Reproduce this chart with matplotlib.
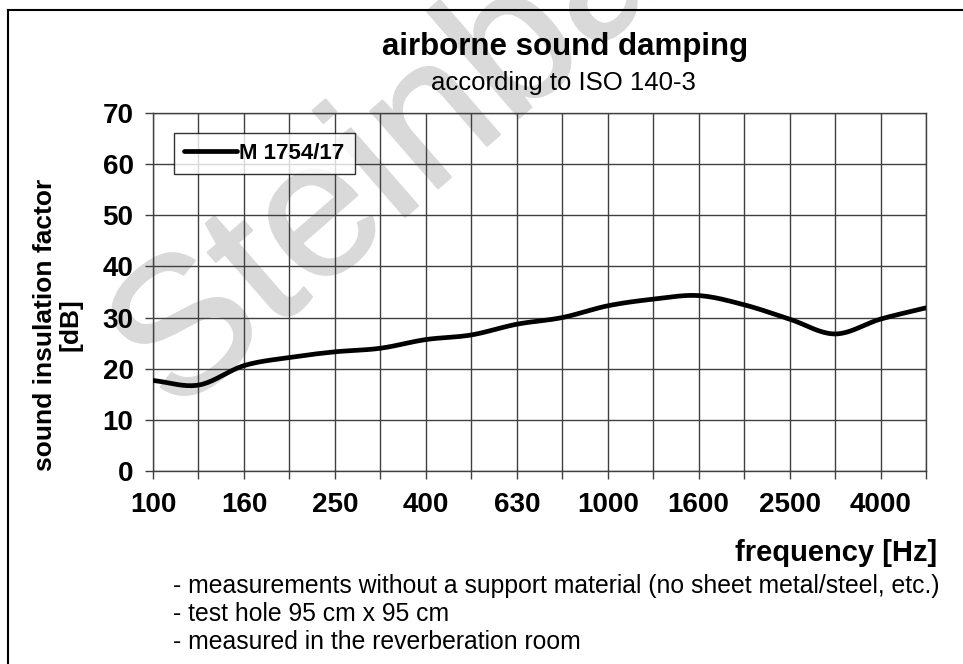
import numpy as np
import matplotlib
matplotlib.use("Agg")
import matplotlib.pyplot as plt
import matplotlib.patheffects as pe
from matplotlib.lines import Line2D

plt.rcParams['font.family'] = ['Liberation Sans', 'DejaVu Sans']

# third-octave band centre frequencies [Hz]
freqs = ["100", "125", "160", "200", "250", "315", "400", "500", "630", "800",
         "1000", "1250", "1600", "2000", "2500", "3150", "4000", "5000"]
# sound insulation factor [dB]
r_db = [17.7, 16.8, 20.6, 22.2, 23.3, 24.0, 25.7, 26.6, 28.7, 30.0,
        32.3, 33.6, 34.3, 32.5, 29.7, 26.8, 29.7, 31.9]
series_name = "M 1754/17"
notes = ["- measurements without a support material (no sheet metal/steel, etc.)",
         "- test hole 95 cm x 95 cm",
         "- measured in the reverberation room"]


def smooth(x, y, n=20):
    # catmull-rom through the points, like the smoothed line in the original
    x = np.asarray(x, float)
    y = np.asarray(y, float)
    px = np.concatenate([[2 * x[0] - x[1]], x, [2 * x[-1] - x[-2]]])
    py = np.concatenate([[2 * y[0] - y[1]], y, [2 * y[-1] - y[-2]]])
    xs, ys = [], []
    t = np.linspace(0, 1, n, endpoint=False)
    for i in range(1, len(px) - 2):
        for p, out in ((px, xs), (py, ys)):
            p0, p1, p2, p3 = p[i - 1], p[i], p[i + 1], p[i + 2]
            out.append(0.5 * (2 * p1 + (-p0 + p2) * t
                              + (2 * p0 - 5 * p1 + 4 * p2 - p3) * t ** 2
                              + (-p0 + 3 * p1 - 3 * p2 + p3) * t ** 3))
    xs.append([x[-1]])
    ys.append([y[-1]])
    return np.concatenate(xs), np.concatenate(ys)


fig = plt.figure(figsize=(9.63, 6.64), dpi=100)

# outer frame (only left and top are inside the picture)
fig.add_artist(Line2D([8 / 963, 8 / 963], [0, 1 - 10 / 664], color='black', lw=1.5,
                      transform=fig.transFigure))
fig.add_artist(Line2D([8 / 963, 1], [1 - 10 / 664, 1 - 10 / 664], color='black', lw=1.5,
                      transform=fig.transFigure))

# watermark
fig.text(175 / 963, 1 - 417 / 664, "Steinbach", fontsize=140, color='#d9d9d9',
         rotation=41, rotation_mode='anchor', ha='left', va='baseline', zorder=-1,
         path_effects=[pe.withStroke(linewidth=1.5, foreground='#d9d9d9')])

ax = fig.add_axes([153 / 963, 1 - 471 / 664, 773 / 963, 358 / 664])
ax.patch.set_alpha(0)

idx = np.arange(len(freqs))
sx, sy = smooth(idx, r_db)
ax.plot(sx, sy, color='black', lw=3.4, solid_capstyle='round', label=series_name, zorder=3)

ax.set_xlim(0, len(freqs) - 1)
ax.set_ylim(0, 70)
ax.set_yticks(range(0, 71, 10))
ax.set_xticks(idx)
ax.set_xticklabels([f if i % 2 == 0 else "" for i, f in enumerate(freqs)])
ax.grid(True, color='#404040', lw=1)
ax.tick_params(direction='out', length=6, width=1, color='#404040', pad=8)
for lab in ax.get_xticklabels() + ax.get_yticklabels():
    lab.set_fontsize(20)
    lab.set_fontweight('bold')
ax.tick_params(axis='x', pad=9)
for s in ax.spines.values():
    s.set_color('#404040')
    s.set_linewidth(1)

leg = ax.legend(loc='upper left', bbox_to_anchor=(0.027, 0.945), frameon=True, fancybox=False,
                prop={'weight': 'bold', 'size': 16}, handlelength=2.4, handletextpad=0.1,
                borderpad=0.45, borderaxespad=0)
leg.get_frame().set_edgecolor('black')
leg.get_frame().set_linewidth(1)

fig.text(565 / 963, 1 - 47 / 664, "airborne sound damping", fontsize=22.5, fontweight='bold',
         ha='center', va='center')
fig.text(563 / 963, 1 - 83 / 664, "according to ISO 140-3", fontsize=18.5,
         ha='center', va='center')
fig.text(58 / 963, 1 - 325 / 664, "sound insulation factor\n[dB]", fontsize=19, fontweight='bold',
         rotation=90, ha='center', va='center', linespacing=1.1)
fig.text(937 / 963, 1 - 553 / 664, "frequency [Hz]", fontsize=21, fontweight='bold',
         ha='right', va='center')
for k, note in enumerate(notes):
    fig.text(173 / 963, 1 - (586 + 28 * k) / 664, note, fontsize=17.8, ha='left', va='center')

fig.savefig("out.png", dpi=100)
